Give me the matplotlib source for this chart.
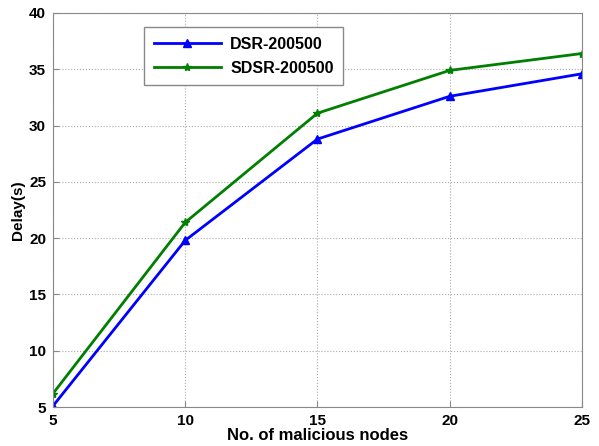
import matplotlib; matplotlib.use('Agg')
import matplotlib.pyplot as plt

plt.rcParams['font.family'] = ['Liberation Sans', 'DejaVu Sans']

nodes = [5, 10, 15, 20, 25]
dsr = [5.1, 19.8, 28.8, 32.6, 34.6]
sdsr = [6.2, 21.4, 31.1, 34.9, 36.4]

fig = plt.figure(figsize=(5.99, 4.46), dpi=100)
ax = fig.add_axes([0.0885, 0.0874, 0.883, 0.8835])
ax.plot(nodes, dsr, color='#0000ff', lw=2, marker='^', ms=6, label='DSR-200500')
ax.plot(nodes, sdsr, color='#007f00', lw=2, marker='*', ms=6, label='SDSR-200500')
ax.set_xlim(5, 25); ax.set_ylim(5, 40)
ax.set_xticks(nodes); ax.set_yticks(range(5, 41, 5))
ax.grid(True, ls=':', color='#aaaaaa', lw=0.8)
for s in ax.spines.values():
    s.set_color('#888888')
ax.tick_params(direction='in', length=4, color='#888888', labelsize=11, pad=5)
for t in ax.get_xticklabels() + ax.get_yticklabels():
    t.set_fontweight('bold')
ax.set_xlabel('No. of malicious nodes', fontsize=12, fontweight='bold', labelpad=0)
ax.set_ylabel('Delay(s)', fontsize=11, fontweight='bold', labelpad=3)
leg = ax.legend(loc='upper left', bbox_to_anchor=(0.172, 0.964), borderaxespad=0,
                prop={'size': 11.5, 'weight': 'bold'},
                frameon=True, fancybox=False, edgecolor='#888888', framealpha=1,
                handlelength=4.2, borderpad=0.6, labelspacing=0.55, handletextpad=0.6)
leg.get_frame().set_linewidth(1)
fig.savefig('out.png', dpi=100)
